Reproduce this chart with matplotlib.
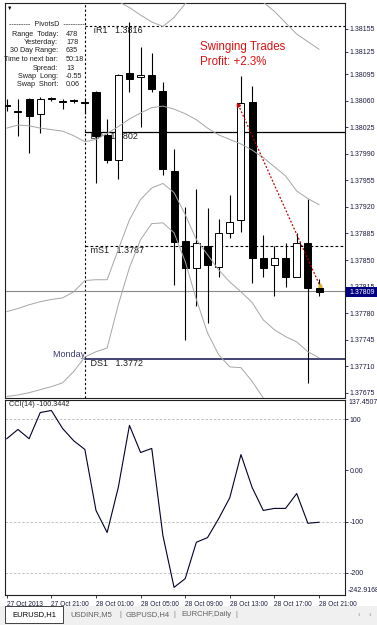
import numpy as np
import matplotlib
matplotlib.use("Agg")
import matplotlib.pyplot as plt
from matplotlib.patches import Rectangle

plt.rcParams['font.family'] = ['Liberation Sans', 'DejaVu Sans']

# ---------------- data ----------------
bar_idx = np.arange(29)   # EURUSD H1, 27 Oct 17:00 .. 28 Oct 21:00

opens  = [1.38055, 1.38046, 1.38063, 1.38042, 1.38064, 1.38060, 1.38061, 1.38059,
          1.38072, 1.38015, 1.37982, 1.38097, 1.38092, 1.38094, 1.38073, 1.37968,
          1.37875, 1.37839, 1.37868, 1.37841, 1.37885, 1.37903, 1.38059, 1.37852,
          1.37843, 1.37852, 1.37828, 1.37872, 1.37813]
highs  = [1.38063, 1.38063, 1.38064, 1.38065, 1.38065, 1.38063, 1.38063, 1.38064,
          1.38073, 1.38036, 1.38096, 1.38164, 1.38131, 1.38123, 1.38085, 1.37997,
          1.37920, 1.37944, 1.37919, 1.37904, 1.37936, 1.38093, 1.38079, 1.37883,
          1.37869, 1.37873, 1.37886, 1.37931, 1.37825]
lows   = [1.38046, 1.38013, 1.37991, 1.38018, 1.38060, 1.38049, 1.38057, 1.38042,
          1.37951, 1.37978, 1.37957, 1.38072, 1.38026, 1.38072, 1.37962, 1.37817,
          1.37745, 1.37790, 1.37767, 1.37827, 1.37879, 1.37887, 1.37820, 1.37827,
          1.37802, 1.37815, 1.37828, 1.37688, 1.37802]
closes = [1.38053, 1.38045, 1.38040, 1.38063, 1.38063, 1.38059, 1.38060, 1.38057,
          1.38014, 1.37982, 1.38094, 1.38089, 1.38094, 1.38075, 1.37970, 1.37874,
          1.37839, 1.37872, 1.37843, 1.37885, 1.37900, 1.38057, 1.37852, 1.37839,
          1.37852, 1.37827, 1.37873, 1.37813, 1.37808]

bb_mid = [1.38024, 1.38028, 1.38027, 1.38024, 1.38022, 1.38020, 1.38014, 1.38006,
          1.38009, 1.38017, 1.38026, 1.38036, 1.38044, 1.38051, 1.38053, 1.38049,
          1.38043, 1.38035, 1.38024, 1.38015, 1.38009, 1.38003, 1.37995, 1.37985,
          1.37973, 1.37961, 1.37941, 1.37931, 1.37923]
bb_up = [1.38266, 1.38270, 1.38263, 1.38253, 1.38246, 1.38240, 1.38220, 1.38195,
         1.38200, 1.38200, 1.38191, 1.38183, 1.38173, 1.38164, 1.38158, 1.38170,
         1.38188, 1.38200, 1.38198, 1.38205, 1.38210, 1.38208, 1.38200, 1.38190,
         1.38178, 1.38163, 1.38148, 1.38138, 1.38128]
bb_low = [1.37782, 1.37786, 1.37791, 1.37795, 1.37798, 1.37800, 1.37808, 1.37823,
          1.37824, 1.37824, 1.37864, 1.37903, 1.37930, 1.37945, 1.37951, 1.37939,
          1.37910, 1.37877, 1.37857, 1.37837, 1.37821, 1.37808, 1.37794, 1.37771,
          1.37758, 1.37749, 1.37742, 1.37729, 1.37721]
bb_low2 = [1.37670, 1.37672, 1.37675, 1.37679, 1.37683, 1.37688, 1.37703, 1.37722,
           1.37729, 1.37734, 1.37791, 1.37840, 1.37877, 1.37898, 1.37899, 1.37886,
           1.37848, 1.37798, 1.37754, 1.37725, 1.37709, 1.37708, 1.37690, 1.37668,
           1.37653, 1.37642, 1.37633, 1.37626, 1.37620]

cci = [62, 80, 62, 113, 117, 82, 58, 41, -78, -121, -33, 88, 35, 43, -127, -228,
       -211, -140, -131, -94, -53, 31, -33, -78, -74, -74, -45, -103, -101]

pivot_names = ['ıR1', 'DP', 'mS1', 'DS1']
pivot_values = [1.38159, 1.38019, 1.37869, 1.37720]
pivot_labels = ['1.3816', '1.3802', '1.3787', '1.3772']

bid = 1.37809
trade_x = [20.75, 28.05]
trade_y = [1.38055, 1.37817]

price_ticks = [1.38155, 1.38125, 1.38095, 1.38060, 1.38025, 1.37990, 1.37955,
               1.37920, 1.37885, 1.37850, 1.37815, 1.37780, 1.37745, 1.37710, 1.37675]
cci_ticks = [100, 0, -100, -200]
cci_tick_labels = ['100', '0.00', '-100', '-200']
cci_levels = [100, -100, -200]
cci_min, cci_max = -242.9168, 137.4507

time_ticks = [0, 4, 8, 12, 16, 20, 24, 28]
time_labels = ['27 Oct 2013', '27 Oct 21:00', '28 Oct 01:00', '28 Oct 05:00',
               '28 Oct 09:00', '28 Oct 13:00', '28 Oct 17:00', '28 Oct 21:00']

info_names = ['Range  Today:', 'Yesterday:', '30 Day Range:', 'Time to next bar:',
              'Spread:', 'Swap  Long:', 'Swap  Short:']
info_values = ['478', '178', '635', '50:18', '13', '-0.55', '0.06']

tabs = ['EURUSD,H1', 'USDINR,M5', 'GBPUSD,H4', 'EURCHF,Daily']

# ---------------- layout ----------------
W, H = 377, 625
fig = plt.figure(figsize=(W / 100, H / 100), dpi=100)
fig.patch.set_facecolor('white')


def box(x0, y0, x1, y1):
    return [x0 / W, 1 - y1 / H, (x1 - x0) / W, (y1 - y0) / H]


def px(x, y):
    return x / W, 1 - y / H


ax = fig.add_axes(box(5, 3, 345, 398))
cx = fig.add_axes(box(5, 400, 345, 595))

xlim = (-0.16, 30.33)
ax.set_xlim(*xlim)
cx.set_xlim(*xlim)
ax.set_ylim(1.37668, 1.38189)
cx.set_ylim(cci_min, cci_max)

ink = '#000000'
axis_txt = '#1a1a40'

# ---------------- main panel ----------------
ax.vlines(bar_idx, lows, highs, color=ink, lw=0.8, zorder=3)
o = np.array(opens)
c = np.array(closes)
body_h = np.maximum(np.abs(c - o), 0.000012)
fills = ['white' if cc > oo else ink for oo, cc in zip(o, c)]
ax.bar(bar_idx, body_h, bottom=np.minimum(o, c), width=0.63, color=fills,
       edgecolor=ink, lw=0.7, zorder=4)

band_col = '#a6a6a6'
for band in (bb_up, bb_mid, bb_low, bb_low2):
    ax.plot(bar_idx, band, color=band_col, lw=0.7, zorder=5)

# day separator
ax.axvline(7, color=ink, lw=0.8, ls=(0, (2, 2)), zorder=1)

# pivot lines
styles = [dict(color=ink, ls=(0, (2, 2)), lw=0.8),
          dict(color=ink, ls='-', lw=0.9),
          dict(color=ink, ls=(0, (2.5, 2)), lw=0.8),
          dict(color='#101050', ls='-', lw=1.1)]
for name, val, lab, st in zip(pivot_names, pivot_values, pivot_labels, styles):
    ax.plot([7, xlim[1]], [val, val], zorder=2, **st)
    xt = 7.55 if name == 'ıR1' else 7.25
    ax.text(xt, val, ' ' + name + '   ' + lab, fontsize=6.5, color='#202020',
            va='top', ha='left', zorder=2)
ax.text(7.25, pivot_values[3], 'Monday ', fontsize=6.5, color='#3a3a70',
        va='bottom', ha='right', zorder=2)

# bid line
ax.axhline(bid, color='#8a8a8a', lw=0.8, zorder=1)

# trade line
ax.plot(trade_x, trade_y, color='#c00000', lw=0.9, ls=(0, (1.5, 1.5)), zorder=6)
ax.plot(trade_x[0], trade_y[0], marker=(3, 0, 30), ms=3, color='#d00000', zorder=7)
ax.plot(trade_x[1], trade_y[1], marker='^', ms=2.5, color='#e0b030', zorder=7)

ax.text(*px(200, 47), 'Swinging Trades', transform=fig.transFigure, fontsize=8.3,
        color='#e01010', va='center', ha='left')
ax.text(*px(200, 62), 'Profit: +2.3%', transform=fig.transFigure, fontsize=8.3,
        color='#e01010', va='center', ha='left')

# info block
fig.text(*px(47, 25), '---------  PivotsD  ---------', fontsize=5.2, color='#202020',
         ha='center', va='center')
for i, (nm, vv) in enumerate(zip(info_names, info_values)):
    yy = 34 + i * 8.5
    fig.text(*px(58, yy), nm, fontsize=5.2, color='#202020', ha='right', va='center')
    fig.text(*px(66, yy), vv, fontsize=5.2, color='#202020', ha='left', va='center')
fig.text(*px(10, 8), '▼', fontsize=4, color=ink, ha='center', va='center')

ax.tick_params(axis='x', bottom=False, labelbottom=False)
ax.yaxis.tick_right()
ax.set_yticks(price_ticks)
ax.set_yticklabels(['%.5f' % p for p in price_ticks])
ax.tick_params(axis='y', length=2, width=0.6, pad=1.5, labelsize=5, colors=axis_txt)

# price box
fig.patches.append(Rectangle(px(346, 297), 31 / W, 10 / H, transform=fig.transFigure,
                             facecolor='#000080', edgecolor='none', zorder=10))
fig.text(*px(349, 292), '%.5f' % bid, fontsize=5, color='white', ha='left',
         va='center', zorder=11)

# ---------------- CCI panel ----------------
for lv in cci_levels:
    cx.axhline(lv, color='#b8b8b8', lw=0.6, ls=(0, (3, 2)), zorder=1)
cx.plot(bar_idx, cci, color='#000028', lw=0.8, zorder=3)
cx.text(*px(9, 405), 'CCI(14) -100.3442', transform=fig.transFigure, fontsize=5.2,
        color='#202020', ha='left', va='center')

cx.yaxis.tick_right()
cx.set_yticks(cci_ticks)
cx.set_yticklabels(cci_tick_labels)
cx.tick_params(axis='y', length=2, width=0.6, pad=1.5, labelsize=5, colors=axis_txt)
fig.text(*px(348, 403), '137.4507', fontsize=5, color=axis_txt, ha='left', va='center')
fig.text(*px(348, 591), '-242.9168', fontsize=5, color=axis_txt, ha='left', va='center')

cx.set_xticks(time_ticks)
cx.set_xticklabels(time_labels, ha='left')
cx.tick_params(axis='x', length=2.5, width=0.6, pad=1.5, labelsize=4.8, colors=axis_txt)

for a in (ax, cx):
    for s in a.spines.values():
        s.set_color('#202020')
        s.set_linewidth(0.8)
    a.set_facecolor('white')

# ---------------- tab bar ----------------
fig.patches.append(Rectangle(px(0, 625), 1, 19 / H, transform=fig.transFigure,
                             facecolor='#f0f0f0', edgecolor='none', zorder=0))
fig.patches.append(Rectangle(px(5, 623), 58 / W, 17 / H, transform=fig.transFigure,
                             facecolor='white', edgecolor='#404040', lw=0.7, zorder=1))
tab_x = [12, 70, 126, 181]
for i, (t, tx) in enumerate(zip(tabs, tab_x)):
    fig.text(*px(tx, 615), t, fontsize=5.5, color=ink if i == 0 else '#606060',
             ha='left', va='center')
for sx in [120, 174, 236]:
    fig.text(*px(sx, 615), '|', fontsize=5.5, color='#808080', ha='center', va='center')
fig.text(*px(359, 615), '‹', fontsize=5.5, color='#909090', ha='center', va='center')
fig.text(*px(370, 615), '›', fontsize=5.5, color='#909090', ha='center', va='center')

fig.savefig('out.png', dpi=100, facecolor=fig.get_facecolor())
